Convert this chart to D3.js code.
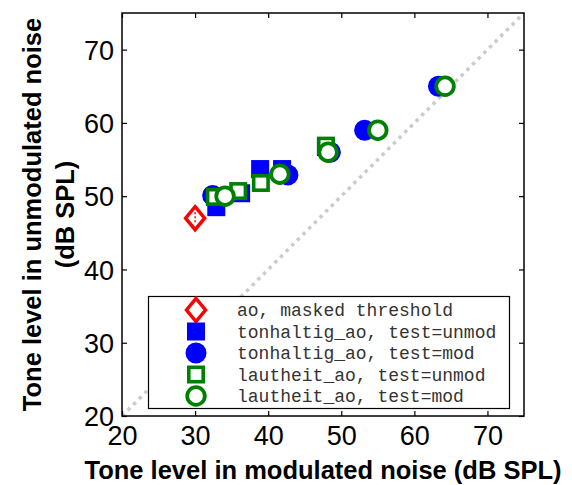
<!DOCTYPE html>
<html>
<head>
<meta charset="utf-8">
<script src="https://cdn.jsdelivr.net/npm/d3@7"></script>
<style>
  body { margin: 0; background: #fff; }
  svg { display: block; }
</style>
</head>
<body>
<div id="chart"></div>
<script>
// data
var xTicks = [20, 30, 40, 50, 60, 70];
var yTicks = [20, 30, 40, 50, 60, 70];
var diagonal = [[20, 20], [75, 75]];

var aoX = [30];
var aoY = [47];

var tonUnmodX = [32.9, 36.3, 38.9, 41.9, 47.9];
var tonUnmodY = [48.5, 50.4, 53.7, 53.7, 56.7];

var tonModX = [32.4, 42.7, 48.5, 53.2, 63.3];
var tonModY = [50.1, 52.9, 56.0, 59.0, 65.0];

var lautUnmodX = [32.7, 35.9, 39.0, 47.9];
var lautUnmodY = [49.9, 50.7, 51.8, 56.9];

var lautModX = [34.1, 41.6, 48.2, 55.0, 64.2];
var lautModY = [50.0, 53.0, 56.0, 59.0, 65.0];

var legendLabels = [
    "ao, masked threshold",
    "tonhaltig_ao, test=unmod",
    "tonhaltig_ao, test=mod",
    "lautheit_ao, test=unmod",
    "lautheit_ao, test=mod"
];

function draw() {
    var w = 572;
    var h = 485;

    var svg = d3.select("#chart")
        .append("svg")
        .attr("width", w)
        .attr("height", h);

    // plot box
    var left = 122, right = 524, top = 13, bottom = 416;

    var x = d3.scaleLinear().domain([20, 75]).range([left, right]);
    var y = d3.scaleLinear().domain([20, 75]).range([bottom, top]);

    svg.append("clipPath").attr("id", "clip")
        .append("rect")
        .attr("x", left).attr("y", top)
        .attr("width", right - left).attr("height", bottom - top);

    // dotted identity line
    svg.append("path")
        .attr("clip-path", "url(#clip)")
        .attr("d", d3.line().x(function(d) { return x(d[0]); }).y(function(d) { return y(d[1]); })(diagonal))
        .attr("stroke", "#cbcbcb")
        .attr("stroke-width", 3.5)
        .attr("stroke-dasharray", "3.5,4.5")
        .attr("fill", "none");

    // marker shapes
    function diamond(g) {
        g.append("path")
            .attr("d", "M0,-11.5L9.5,0L0,11.5L-9.5,0Z")
            .attr("fill", "#fff").attr("stroke", "#ff0000").attr("stroke-width", 3.5);
    }
    function bSquare(g) {
        g.append("rect").attr("x", -9).attr("y", -9).attr("width", 18).attr("height", 18)
            .attr("fill", "#0000ff");
    }
    function bCircle(g) {
        g.append("circle").attr("r", 10.5).attr("fill", "#0000ff");
    }
    function gSquare(g) {
        g.append("rect").attr("x", -7.2).attr("y", -7.2).attr("width", 14.4).attr("height", 14.4)
            .attr("fill", "#fff").attr("stroke", "#008000").attr("stroke-width", 3.6);
    }
    function gCircle(g) {
        g.append("circle").attr("r", 8.8)
            .attr("fill", "#fff").attr("stroke", "#008000").attr("stroke-width", 3.8);
    }

    var series = [
        { xs: aoX, ys: aoY, shape: diamond },
        { xs: tonUnmodX, ys: tonUnmodY, shape: bSquare },
        { xs: tonModX, ys: tonModY, shape: bCircle },
        { xs: lautUnmodX, ys: lautUnmodY, shape: gSquare },
        { xs: lautModX, ys: lautModY, shape: gCircle }
    ];

    series.forEach(function(s) {
        var pts = s.xs.map(function(v, i) { return [v, s.ys[i]]; });
        svg.append("g").selectAll("g")
            .data(pts)
            .enter()
            .append("g")
            .attr("transform", function(d) { return "translate(" + x(d[0]) + "," + y(d[1]) + ")"; })
            .each(function() { s.shape(d3.select(this)); });
    });

    // little red error dots inside the diamond
    svg.append("line")
        .attr("x1", x(aoX[0])).attr("x2", x(aoX[0]))
        .attr("y1", y(aoY[0]) - 6).attr("y2", y(aoY[0]) + 6)
        .attr("stroke", "#ff0000").attr("stroke-width", 1.5)
        .attr("stroke-dasharray", "2,2");

    // axes, ticks inward on all sides
    var tickFont = "'Liberation Sans', Arial, sans-serif";
    var xAxis = d3.axisBottom(x).tickValues(xTicks).tickSize(-5).tickPadding(10);
    var yAxis = d3.axisLeft(y).tickValues(yTicks).tickSize(-5).tickPadding(8);

    var gx = svg.append("g").attr("transform", "translate(0," + bottom + ")").call(xAxis);
    var gy = svg.append("g").attr("transform", "translate(" + left + ",0)").call(yAxis);
    svg.append("g").attr("transform", "translate(0," + top + ")")
        .call(d3.axisTop(x).tickValues(xTicks).tickSize(-5).tickFormat(""));
    svg.append("g").attr("transform", "translate(" + right + ",0)")
        .call(d3.axisRight(y).tickValues(yTicks).tickSize(-5).tickFormat(""));

    svg.selectAll(".domain").remove();
    svg.selectAll(".tick line").attr("stroke", "#000").attr("stroke-width", 1.2);
    svg.selectAll(".tick text")
        .attr("font-family", tickFont)
        .attr("font-size", "27px")
        .attr("fill", "#000");
    gx.selectAll(".tick text").attr("dy", "0.72em");
    gy.selectAll(".tick text").attr("dy", "0.36em");

    svg.append("rect")
        .attr("x", left).attr("y", top)
        .attr("width", right - left).attr("height", bottom - top)
        .attr("fill", "none").attr("stroke", "#000").attr("stroke-width", 1.5);

    // legend
    var lg = svg.append("g");
    lg.append("rect")
        .attr("x", 148.5).attr("y", 296.5)
        .attr("width", 361).attr("height", 112)
        .attr("fill", "#fff").attr("stroke", "#000").attr("stroke-width", 1.2);

    var rowY = d3.scaleLinear().domain([0, 4]).range([310, 396]);
    legendLabels.forEach(function(lbl, i) {
        var row = lg.append("g").attr("transform", "translate(196," + rowY(i) + ")");
        series[i].shape(row);
        lg.append("text")
            .attr("x", 237).attr("y", rowY(i))
            .attr("dy", "0.35em")
            .attr("font-family", "'Liberation Mono', 'Courier New', monospace")
            .attr("font-size", "18px")
            .attr("fill", "#333")
            .text(lbl);
    });

    // axis titles
    var labFont = "'Liberation Sans', Arial, sans-serif";
    svg.append("text")
        .attr("x", 323).attr("y", 479)
        .attr("text-anchor", "middle")
        .attr("font-family", labFont)
        .attr("font-weight", "bold")
        .attr("font-size", "25.5px")
        .text("Tone level in modulated noise (dB SPL)");

    var yl = svg.append("text")
        .attr("transform", "translate(0," + ((top + bottom) / 2) + ") rotate(-90)")
        .attr("text-anchor", "middle")
        .attr("font-family", labFont)
        .attr("font-weight", "bold")
        .attr("font-size", "25.5px");
    yl.append("tspan").attr("x", 0).attr("y", 41).text("Tone level in unmodulated noise");
    yl.append("tspan").attr("x", 0).attr("y", 74).text("(dB SPL)");
}

window.onload = draw;
</script>
</body>
</html>
